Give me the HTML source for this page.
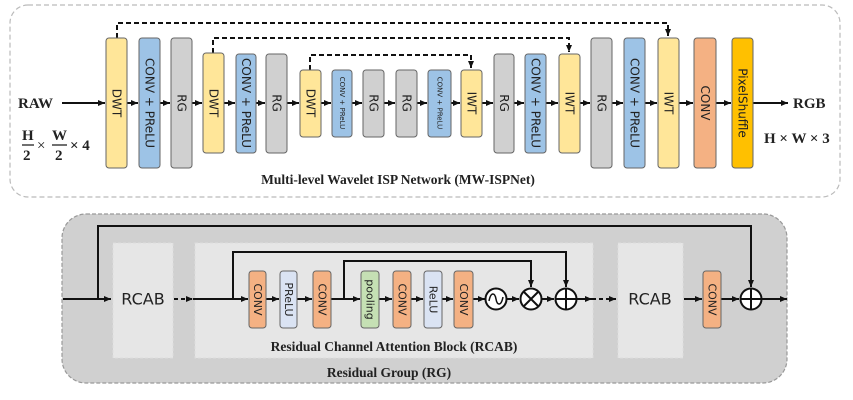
<!DOCTYPE html>
<html><head><meta charset="utf-8"><style>
html,body{margin:0;padding:0;background:#fff;}
svg{display:block;}
.s{font-family:"DejaVu Sans","Liberation Sans",sans-serif;}
.b{font-family:"Liberation Serif",serif;font-weight:bold;}
</style></head><body>
<svg width="853" height="400" viewBox="0 0 853 400" xmlns="http://www.w3.org/2000/svg">
<defs>
<marker id="a" markerWidth="8" markerHeight="8" refX="7" refY="4" orient="auto" markerUnits="userSpaceOnUse"><path d="M0,1 L7,4 L0,7 z" fill="#111"/></marker>
</defs>
<rect x="10" y="5" width="830" height="192" rx="18" fill="#fff" stroke="#bbb" stroke-dasharray="5,3" stroke-width="1.2"/>
<g stroke="#111" stroke-width="2" fill="none" stroke-dasharray="5,3">
<path d="M117 38 V23 H668 V36" marker-end="url(#a)"/>
<path d="M213 53 V38 H569 V52" marker-end="url(#a)"/>
<path d="M310 70 V55 H471 V68" marker-end="url(#a)"/>
</g>
<g stroke="#111" stroke-width="2" fill="none">
<line x1="62" y1="103" x2="105" y2="103" marker-end="url(#a)"/>
<line x1="127" y1="103" x2="138" y2="103" marker-end="url(#a)"/>
<line x1="160" y1="103" x2="170" y2="103" marker-end="url(#a)"/>
<line x1="192" y1="103" x2="202" y2="103" marker-end="url(#a)"/>
<line x1="224" y1="103" x2="235" y2="103" marker-end="url(#a)"/>
<line x1="256" y1="103" x2="265" y2="103" marker-end="url(#a)"/>
<line x1="287" y1="103" x2="299" y2="103" marker-end="url(#a)"/>
<line x1="321" y1="103" x2="331" y2="103" marker-end="url(#a)"/>
<line x1="352" y1="103" x2="362" y2="103" marker-end="url(#a)"/>
<line x1="384" y1="103" x2="395" y2="103" marker-end="url(#a)"/>
<line x1="417" y1="103" x2="427" y2="103" marker-end="url(#a)"/>
<line x1="451" y1="103" x2="460" y2="103" marker-end="url(#a)"/>
<line x1="482" y1="103" x2="493" y2="103" marker-end="url(#a)"/>
<line x1="514" y1="103" x2="524" y2="103" marker-end="url(#a)"/>
<line x1="546" y1="103" x2="558" y2="103" marker-end="url(#a)"/>
<line x1="580" y1="103" x2="590" y2="103" marker-end="url(#a)"/>
<line x1="612" y1="103" x2="623" y2="103" marker-end="url(#a)"/>
<line x1="645" y1="103" x2="657" y2="103" marker-end="url(#a)"/>
<line x1="679" y1="103" x2="693" y2="103" marker-end="url(#a)"/>
<line x1="716" y1="103" x2="731" y2="103" marker-end="url(#a)"/>
<line x1="753" y1="103" x2="788" y2="103" marker-end="url(#a)"/>
</g>
<g stroke="#666" stroke-width="1">
<rect x="106" y="38" width="21" height="130" rx="3" fill="#FFE699"/>
<rect x="139" y="38" width="21" height="130" rx="3" fill="#9DC3E6"/>
<rect x="171" y="38" width="21" height="130" rx="3" fill="#D0D0D0"/>
<rect x="203" y="53" width="21" height="100" rx="3" fill="#FFE699"/>
<rect x="236" y="54" width="20" height="99" rx="3" fill="#9DC3E6"/>
<rect x="266" y="54" width="21" height="99" rx="3" fill="#D0D0D0"/>
<rect x="300" y="70" width="21" height="67" rx="3" fill="#FFE699"/>
<rect x="332" y="70" width="20" height="67" rx="3" fill="#9DC3E6"/>
<rect x="363" y="70" width="21" height="67" rx="3" fill="#D0D0D0"/>
<rect x="396" y="70" width="21" height="67" rx="3" fill="#D0D0D0"/>
<rect x="428" y="70" width="23" height="67" rx="3" fill="#9DC3E6"/>
<rect x="461" y="70" width="21" height="67" rx="3" fill="#FFE699"/>
<rect x="494" y="54" width="20" height="99" rx="3" fill="#D0D0D0"/>
<rect x="525" y="54" width="21" height="99" rx="3" fill="#9DC3E6"/>
<rect x="559" y="54" width="21" height="99" rx="3" fill="#FFE699"/>
<rect x="591" y="38" width="21" height="130" rx="3" fill="#D0D0D0"/>
<rect x="624" y="38" width="21" height="130" rx="3" fill="#9DC3E6"/>
<rect x="658" y="38" width="21" height="130" rx="3" fill="#FFE699"/>
<rect x="694" y="38" width="22" height="130" rx="3" fill="#F4B183"/>
<rect x="732" y="38" width="21" height="130" rx="3" fill="#FFC000"/>
</g>
<g class="s" fill="#222" font-size="12" text-anchor="middle" dominant-baseline="central">
<text transform="translate(116.5,103) rotate(90)">DWT</text>
<text transform="translate(149.5,103) rotate(90)">CONV + PReLU</text>
<text transform="translate(181.5,103) rotate(90)">RG</text>
<text transform="translate(213.5,103) rotate(90)">DWT</text>
<text transform="translate(246,103) rotate(90)">CONV + PReLU</text>
<text transform="translate(276.5,103) rotate(90)">RG</text>
<text transform="translate(310.5,103) rotate(90)">DWT</text>
<text transform="translate(342,103) rotate(90)" font-size="7">CONV + PReLU</text>
<text transform="translate(373.5,103) rotate(90)">RG</text>
<text transform="translate(406.5,103) rotate(90)">RG</text>
<text transform="translate(439.5,103) rotate(90)" font-size="7">CONV + PReLU</text>
<text transform="translate(471.5,103) rotate(90)">IWT</text>
<text transform="translate(504,103) rotate(90)">RG</text>
<text transform="translate(535.5,103) rotate(90)">CONV + PReLU</text>
<text transform="translate(569.5,103) rotate(90)">IWT</text>
<text transform="translate(601.5,103) rotate(90)">RG</text>
<text transform="translate(634.5,103) rotate(90)">CONV + PReLU</text>
<text transform="translate(668.5,103) rotate(90)">IWT</text>
<text transform="translate(705,103) rotate(90)">CONV</text>
<text transform="translate(742.5,103) rotate(90)">PixelShuffle</text>
</g>
<g class="b" fill="#222">
<text x="18" y="108" font-size="15">RAW</text>
<text x="793" y="108" font-size="15">RGB</text>
<text x="764" y="143" font-size="15">H × W × 3</text>
<text x="22" y="140" font-size="15">H</text>
<line x1="22" y1="145" x2="34" y2="145" stroke="#222" stroke-width="1.3"/>
<text x="23" y="160" font-size="15">2</text>
<text x="37" y="150" font-size="15" font-weight="normal">×</text>
<text x="52" y="140" font-size="15">W</text>
<line x1="52" y1="145" x2="67" y2="145" stroke="#222" stroke-width="1.3"/>
<text x="55" y="160" font-size="15">2</text>
<text x="70" y="150" font-size="15">× 4</text>
<text x="398" y="184" font-size="13.5" text-anchor="middle">Multi-level Wavelet ISP Network (MW-ISPNet)</text>
</g>
<rect x="62" y="214" width="725" height="169" rx="24" fill="#D0D0D0" stroke="#999" stroke-dasharray="4,2" stroke-width="1.2"/>
<rect x="113" y="243" width="60" height="115" fill="#E6E6E6" stroke="#ddd" stroke-dasharray="3,2"/>
<rect x="195" y="243" width="398" height="115" fill="#E6E6E6" stroke="#ddd" stroke-dasharray="3,2"/>
<rect x="618" y="243" width="65" height="115" fill="#E6E6E6" stroke="#ddd" stroke-dasharray="3,2"/>
<g stroke="#111" stroke-width="2" fill="none">
<line x1="63" y1="299" x2="111" y2="299" marker-end="url(#a)"/>
<path d="M98 299 V226 H751 V287" marker-end="url(#a)"/>
<line x1="174" y1="299" x2="193" y2="299" stroke-dasharray="4,3" marker-end="url(#a)"/>
<line x1="193" y1="299" x2="248" y2="299" marker-end="url(#a)"/>
<path d="M233 299 V252 H566 V287" marker-end="url(#a)"/>
<line x1="266" y1="299" x2="279" y2="299" marker-end="url(#a)"/>
<line x1="297" y1="299" x2="312" y2="299" marker-end="url(#a)"/>
<line x1="331" y1="299" x2="360" y2="299" marker-end="url(#a)"/>
<path d="M344 299 V261 H531 V287" marker-end="url(#a)"/>
<line x1="379" y1="299" x2="392" y2="299" marker-end="url(#a)"/>
<line x1="411" y1="299" x2="423" y2="299" marker-end="url(#a)"/>
<line x1="442" y1="299" x2="453" y2="299" marker-end="url(#a)"/>
<line x1="473" y1="299" x2="485" y2="299" marker-end="url(#a)"/>
<line x1="507" y1="299" x2="519" y2="299" marker-end="url(#a)"/>
<line x1="542" y1="299" x2="554" y2="299" marker-end="url(#a)"/>
<line x1="577" y1="299" x2="592" y2="299" marker-end="url(#a)"/>
<line x1="592" y1="299" x2="616" y2="299" stroke-dasharray="4,3" marker-end="url(#a)"/>
<line x1="684" y1="299" x2="702" y2="299" marker-end="url(#a)"/>
<line x1="721" y1="299" x2="739" y2="299" marker-end="url(#a)"/>
<line x1="762" y1="299" x2="787" y2="299" marker-end="url(#a)"/>
<circle cx="496" cy="299" r="10.5" fill="#fff"/>
<path d="M489 301 C491 291,495 293,496 299 C497 305,501 307,503 297" stroke-width="1.5"/>
<circle cx="531" cy="299" r="10.5" fill="#fff"/>
<path d="M523.5 291.5 L538.5 306.5 M538.5 291.5 L523.5 306.5"/>
<circle cx="566" cy="299" r="10.5" fill="#fff"/>
<path d="M555.5 299 H576.5 M566 288.5 V309.5"/>
<circle cx="751" cy="299" r="10.5" fill="#fff"/>
<path d="M740.5 299 H761.5 M751 288.5 V309.5"/>
</g>
<g stroke="#666" stroke-width="1">
<rect x="249" y="271" width="17" height="57" rx="3" fill="#F4B183"/>
<rect x="280" y="271" width="17" height="57" rx="3" fill="#DAE3F3"/>
<rect x="313" y="271" width="18" height="57" rx="3" fill="#F4B183"/>
<rect x="361" y="271" width="18" height="57" rx="3" fill="#C5E0B4"/>
<rect x="393" y="271" width="18" height="57" rx="3" fill="#F4B183"/>
<rect x="424" y="271" width="18" height="57" rx="3" fill="#DAE3F3"/>
<rect x="454" y="271" width="19" height="57" rx="3" fill="#F4B183"/>
<rect x="703" y="271" width="18" height="57" rx="3" fill="#F4B183"/>
</g>
<g class="s" fill="#222" font-size="11" text-anchor="middle" dominant-baseline="central">
<text transform="translate(257.5,299.5) rotate(90)">CONV</text>
<text transform="translate(288.5,299.5) rotate(90)">PReLU</text>
<text transform="translate(322,299.5) rotate(90)">CONV</text>
<text transform="translate(370,299.5) rotate(90)">pooling</text>
<text transform="translate(402,299.5) rotate(90)">CONV</text>
<text transform="translate(433,299.5) rotate(90)">ReLU</text>
<text transform="translate(463.5,299.5) rotate(90)">CONV</text>
<text transform="translate(712,299.5) rotate(90)">CONV</text>
<text x="143" y="299" font-size="16">RCAB</text>
<text x="650" y="299" font-size="16">RCAB</text>
</g>
<g class="b" fill="#222" font-size="13.5" text-anchor="middle">
<text x="394" y="351">Residual Channel Attention Block (RCAB)</text>
<text x="389" y="377">Residual Group (RG)</text>
</g>
</svg>
</body></html>
